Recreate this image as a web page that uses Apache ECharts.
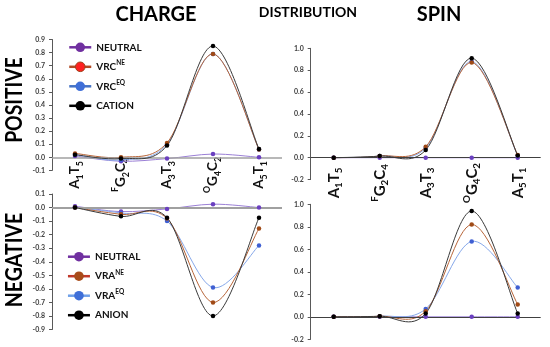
<!DOCTYPE html>
<html><head><meta charset="utf-8">
<script src="https://cdn.jsdelivr.net/npm/echarts@6/dist/echarts.min.js"></script>
<style>html,body{margin:0;padding:0;background:#fff}#c{width:550px;height:347px}</style>
</head><body><div id="c"></div>
<script>
const categories = ['A1T5', 'FG2C4', 'A3T3', 'OG4C2', 'A5T1'];
const categoryLabels = ['A{s|1}T{s|5}', '{p|F}G{s|2}C{s|4}', 'A{s|3}T{s|3}', '{p|O}G{s|4}C{s|2}', 'A{s|5}T{s|1}'];

// CHARGE distribution – POSITIVE
const chargePosNeutral = [0.01, -0.03, -0.01, 0.025, 0.0];
const chargePosVrcNE   = [0.03, 0.0, 0.11, 0.79, 0.06];
const chargePosVrcEQ   = [0.02, -0.02, 0.10, 0.79, 0.06];
const chargePosCation  = [0.02, -0.01, 0.09, 0.85, 0.063];
// SPIN distribution – POSITIVE
const spinPosNeutral = [0, 0, 0, 0, 0];
const spinPosVrcNE   = [0, 0.015, 0.10, 0.87, 0.025];
const spinPosVrcEQ   = [0, 0.015, 0.09, 0.88, 0.02];
const spinPosCation  = [0, 0.015, 0.07, 0.91, 0.02];
// CHARGE distribution – NEGATIVE
const chargeNegNeutral = [0.01, -0.03, -0.01, 0.025, 0.0];
const chargeNegVraNE   = [0.0, -0.05, -0.08, -0.70, -0.155];
const chargeNegVraEQ   = [0.0, -0.04, -0.10, -0.59, -0.28];
const chargeNegAnion   = [0.0, -0.065, -0.075, -0.80, -0.075];
// SPIN distribution – NEGATIVE
const spinNegNeutral = [0, 0, 0, 0, 0];
const spinNegVraNE   = [0, 0.005, 0.05, 0.82, 0.11];
const spinNegVraEQ   = [0, 0.005, 0.07, 0.67, 0.26];
const spinNegAnion   = [0, 0.005, 0.03, 0.94, 0.03];

const legendNames = {
  'NEUTRAL': 'NEUTRAL', 'VRC_NE': 'VRC{sup|NE}', 'VRC_EQ': 'VRC{sup|EQ}', 'CATION': 'CATION',
  'NEUTRAL_A': 'NEUTRAL', 'VRA_NE': 'VRA{sup|NE}', 'VRA_EQ': 'VRA{sup|EQ}', 'ANION': 'ANION'
};

const C = {
  neuLine: '#9b80d6', neuMark: '#6a3fc0',
  neLine: '#b8663a', neMark: '#a04a16',
  eqLine: '#86a8ea', eqMark: '#3f5fd2',
  blkLine: '#3a3a3a', blkMark: '#000000'
};

const zeroLine = [
  { color: '#a0a0a0', width: 1.5 }, { color: '#404040', width: 1 },
  { color: '#a0a0a0', width: 2 }, { color: '#404040', width: 1 }
];

// markers (line series, line hidden) – drawn through the axes
function mk(name, data, gi, mark, z, zero) {
  const s = {
    type: 'line', name: name, data: data, xAxisIndex: gi, yAxisIndex: gi,
    symbol: 'circle', symbolSize: 4.5, showSymbol: true,
    lineStyle: { width: 0, opacity: 0 }, itemStyle: { color: mark }, z: z + 10,
    emphasis: { disabled: true }
  };
  if (zero) {
    s.markLine = {
      silent: true, symbol: 'none', label: { show: false }, animation: false,
      lineStyle: { type: 'solid', color: zeroLine[gi].color, width: zeroLine[gi].width, opacity: 1 },
      emphasis: { disabled: true },
      data: [{ yAxis: 0 }]
    };
  }
  return s;
}

// smooth curve (spreadsheet-style Catmull-Rom), points mapped through api.coord
function curve(values, gi, color, z) {
  return {
    type: 'custom', xAxisIndex: gi, yAxisIndex: gi, z: z, silent: true, clip: false,
    data: [[0, values[0]]],
    renderItem: function (params, api) {
      const p = values.map((v, i) => api.coord([i, v]));
      const n = p.length;
      const P = i => p[Math.max(0, Math.min(n - 1, i))];
      let d = 'M' + p[0][0] + ' ' + p[0][1];
      for (let i = 0; i < n - 1; i++) {
        const a = P(i - 1), b = P(i), c = P(i + 1), e = P(i + 2);
        const c1x = b[0] + (c[0] - a[0]) / 6, c1y = b[1] + (c[1] - a[1]) / 6;
        const c2x = c[0] - (e[0] - b[0]) / 6, c2y = c[1] - (e[1] - b[1]) / 6;
        d += ' C' + c1x + ' ' + c1y + ' ' + c2x + ' ' + c2y + ' ' + c[0] + ' ' + c[1];
      }
      return { type: 'path', shape: { pathData: d }, style: { stroke: color, fill: 'none', lineWidth: 1 } };
    }
  };
}

const grids = [
  { left: 52, top: 39.5, width: 230, height: 130.9 },
  { left: 310.7, top: 48.3, width: 230, height: 131.3 },
  { left: 52, top: 194, width: 230, height: 135.5 },
  { left: 310.7, top: 204.3, width: 230, height: 135 }
];
const yRanges = [[-0.1, 0.9, 0.1], [-0.2, 1.0, 0.2], [-0.9, 0.1, 0.1], [-0.2, 1.0, 0.2]];
const labFont = [13.5, 15];
const labMargin = [4.6, 3.4];

const xAxes = grids.map((g, i) => ({
  type: 'category', gridIndex: i, data: categories, boundaryGap: true, position: 'bottom',
  axisLine: { show: false, onZero: false },
  axisTick: { show: false }, splitLine: { show: false },
  axisLabel: i < 2 ? {
    show: true, interval: 0, rotate: 90, margin: labMargin[i], align: 'center',
    formatter: (v, idx) => categoryLabels[idx],
    fontFamily: 'Lato', fontWeight: 'bold', fontSize: labFont[i], color: '#111', lineHeight: 20,
    rich: {
      s: { fontFamily: 'Lato', fontWeight: 'bold', fontSize: labFont[i] * 0.65, lineHeight: 10, verticalAlign: 'bottom', color: '#111' },
      p: { fontFamily: 'Lato', fontWeight: 'bold', fontSize: labFont[i] * 0.65, lineHeight: 10, verticalAlign: 'top', color: '#111' }
    }
  } : { show: false }
}));

const yAxes = grids.map((g, i) => ({
  type: 'value', gridIndex: i, min: yRanges[i][0], max: yRanges[i][1], interval: yRanges[i][2],
  axisLine: { show: true, lineStyle: { color: '#595959', width: 1 } },
  axisTick: { show: true, length: 3, lineStyle: { color: '#595959' } },
  splitLine: { show: false },
  axisLabel: {
    fontFamily: 'Lato', fontWeight: 'bold', fontSize: 7, color: '#404040', margin: 7,
    formatter: v => (Math.round(v * 10) / 10).toFixed(1)
  }
}));

const groups = [
  [['NEUTRAL', chargePosNeutral, 'neu'], ['VRC_EQ', chargePosVrcEQ, 'eq'], ['VRC_NE', chargePosVrcNE, 'ne'], ['CATION', chargePosCation, 'blk']],
  [['sp_NEUTRAL', spinPosNeutral, 'neu'], ['sp_VRC_EQ', spinPosVrcEQ, 'eq'], ['sp_VRC_NE', spinPosVrcNE, 'ne'], ['sp_CATION', spinPosCation, 'blk']],
  [['NEUTRAL_A', chargeNegNeutral, 'neu'], ['VRA_EQ', chargeNegVraEQ, 'eq'], ['VRA_NE', chargeNegVraNE, 'ne'], ['ANION', chargeNegAnion, 'blk']],
  [['sn_NEUTRAL', spinNegNeutral, 'neu'], ['sn_VRA_EQ', spinNegVraEQ, 'eq'], ['sn_VRA_NE', spinNegVraNE, 'ne'], ['sn_ANION', spinNegAnion, 'blk']]
];
const series = [];
groups.forEach((g, gi) => {
  g.forEach((s, k) => {
    series.push(curve(s[1], gi, C[s[2] + 'Line'], 2 + k));
    series.push(mk(s[0], s[1], gi, C[s[2] + 'Mark'], 2 + k, k === 0));
  });
});

function legendCfg(left, top, items) {
  return {
    orient: 'vertical', left: left, top: top, itemWidth: 22, itemHeight: 12, itemGap: 5.5,
    selectedMode: false, lineStyle: { width: 2.5, opacity: 1 },
    data: items,
    formatter: n => legendNames[n],
    textStyle: {
      fontFamily: 'Lato', fontWeight: 'bold', fontSize: 10, color: '#111', lineHeight: 14,
      rich: { sup: { fontFamily: 'Lato', fontWeight: 'bold', fontSize: 6.5, lineHeight: 8, verticalAlign: 'top', color: '#111' } }
    }
  };
}

const legends = [
  legendCfg(63, 35.3, [
    { name: 'NEUTRAL', itemStyle: { color: '#7030a0' }, lineStyle: { color: '#7030a0', width: 2.5, opacity: 1 } },
    { name: 'VRC_NE', itemStyle: { color: '#ff2020', borderColor: '#a0421a', borderWidth: 1 }, lineStyle: { color: '#b24a24', width: 2.5, opacity: 1 } },
    { name: 'VRC_EQ', itemStyle: { color: '#3f6fd8' }, lineStyle: { color: '#4472c4', width: 2.5, opacity: 1 } },
    { name: 'CATION', itemStyle: { color: '#000' }, lineStyle: { color: '#000', width: 2.5, opacity: 1 } }
  ]),
  legendCfg(61.7, 244.7, [
    { name: 'NEUTRAL_A', itemStyle: { color: '#7030a0' }, lineStyle: { color: '#7030a0', width: 2.5, opacity: 1 } },
    { name: 'VRA_NE', itemStyle: { color: '#a84c1a' }, lineStyle: { color: '#c0392b', width: 2.5, opacity: 1 } },
    { name: 'VRA_EQ', itemStyle: { color: '#3f6fd8' }, lineStyle: { color: '#6fa0e8', width: 2.5, opacity: 1 } },
    { name: 'ANION', itemStyle: { color: '#000' }, lineStyle: { color: '#000', width: 2.5, opacity: 1 } }
  ])
];

function txt(text, x, y, size, rot, sx) {
  return {
    type: 'text', x: x, y: y, rotation: rot || 0, scaleX: sx || 1, silent: true,
    style: {
      text: text, font: 'bold ' + size + 'px Lato', fill: '#000',
      align: 'center', verticalAlign: 'middle', textAlign: 'center', textVerticalAlign: 'middle'
    }
  };
}

const chart = echarts.init(document.getElementById('c'), null, { renderer: 'canvas' });
chart.setOption({
  animation: false,
  backgroundColor: '#fff',
  grid: grids,
  xAxis: xAxes,
  yAxis: yAxes,
  legend: legends,
  series: series,
  graphic: [
    txt('CHARGE', 156, 14.5, 20),
    txt('DISTRIBUTION', 308, 12.8, 14),
    txt('SPIN', 439, 14.8, 20),
    txt('POSITIVE', 14.5, 100, 23, Math.PI / 2, 0.84),
    txt('NEGATIVE', 14.5, 260, 23, Math.PI / 2, 0.85)
  ]
});
</script></body></html>
